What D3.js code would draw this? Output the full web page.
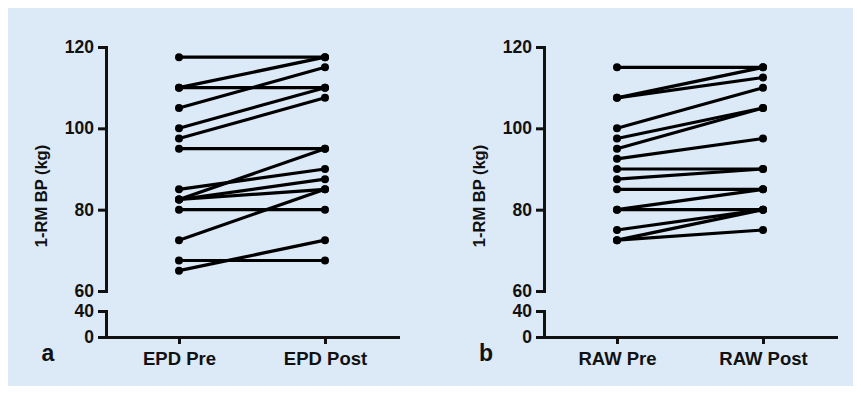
<!DOCTYPE html>
<html>
<head>
<meta charset="utf-8">
<script src="https://cdn.jsdelivr.net/npm/d3@7/dist/d3.min.js"></script>
<style>
  body { margin: 0; background: #fff; }
  text { font-family: "Liberation Sans", Arial, sans-serif; font-weight: bold; fill: #111; }
</style>
</head>
<body>
<div id="chart"></div>
<script>
const width = 861, height = 394;

// panel a (EPD) pre -> post pairs
const epdCategories = ["EPD Pre", "EPD Post"];
const epdPre  = [117.5, 110, 110, 105, 100, 97.5, 95, 82.5, 85, 82.5, 82.5, 80, 72.5, 67.5, 65];
const epdPost = [117.5, 117.5, 110, 115, 110, 107.5, 95, 95, 90, 87.5, 85, 80, 85, 67.5, 72.5];

// panel b (RAW)
const rawCategories = ["RAW Pre", "RAW Post"];
const rawPre  = [115, 107.5, 107.5, 100, 97.5, 95, 92.5, 90, 87.5, 85, 80, 80, 75, 72.5, 72.5];
const rawPost = [115, 115, 112.5, 110, 105, 105, 97.5, 90, 90, 85, 85, 80, 80, 80, 75];

const upperTicks = [60, 80, 100, 120];
const lowerTicks = [0, 40];

let svg = d3.select("#chart")
    .append("svg")
    .attr("width", width)
    .attr("height", height);

svg.append("rect")
    .attr("x", 8).attr("y", 8)
    .attr("width", 845).attr("height", 378)
    .attr("fill", "#dce9f6");

function drawPanel(x0, cats, pre, post, letter) {
    let g = svg.append("g");

    let x = d3.scalePoint()
        .domain(cats)
        .range([x0, x0 + 292])
        .padding(0.5);

    let yUp = d3.scaleLinear().domain([60, 120]).range([291, 47]);
    let yLow = d3.scaleLinear().domain([0, 40]).range([337, 311]);

    let styleAxis = function(sel, size) {
        sel.selectAll("path, line").attr("stroke", "#111").attr("stroke-width", 3);
        sel.selectAll("text").style("font-size", size + "px").attr("fill", "#111");
    };

    g.append("g")
        .attr("transform", `translate(${x0}, 0)`)
        .call(d3.axisLeft(yUp).tickValues(upperTicks).tickSize(8).tickSizeOuter(0).tickPadding(4))
        .call(styleAxis, 17.5);

    g.append("g")
        .attr("transform", `translate(${x0}, 0)`)
        .call(d3.axisLeft(yLow).tickValues(lowerTicks).tickSize(8).tickSizeOuter(0).tickPadding(4))
        .call(styleAxis, 17.5);

    g.append("g")
        .attr("transform", `translate(0, 337)`)
        .call(d3.axisBottom(x).tickSize(7).tickSizeOuter(0).tickPadding(8))
        .call(styleAxis, 18.5);

    g.selectAll(".domain").attr("stroke-linecap", "square");

    g.append("text")
        .attr("transform", `translate(${x0 - 59}, 196) rotate(-90)`)
        .style("text-anchor", "middle")
        .style("font-size", "16.5px")
        .text("1-RM BP (kg)");

    g.append("text")
        .attr("x", x0 - 58)
        .attr("y", 361)
        .style("text-anchor", "middle")
        .style("font-size", "23px")
        .text(letter);

    let pairs = pre.map((d, i) => ({ pre: d, post: post[i] }));

    g.selectAll("line.pair")
        .data(pairs)
        .enter()
        .append("line")
        .attr("class", "pair")
        .attr("x1", x(cats[0]))
        .attr("x2", x(cats[1]))
        .attr("y1", d => yUp(d.pre))
        .attr("y2", d => yUp(d.post))
        .attr("stroke", "#000")
        .attr("stroke-width", 3.2);

    let dots = [];
    pairs.forEach(d => {
        dots.push({ c: cats[0], v: d.pre });
        dots.push({ c: cats[1], v: d.post });
    });

    g.selectAll("circle")
        .data(dots)
        .enter()
        .append("circle")
        .attr("cx", d => x(d.c))
        .attr("cy", d => yUp(d.v))
        .attr("r", 4)
        .attr("fill", "#000");
}

drawPanel(106, epdCategories, epdPre, epdPost, "a");
drawPanel(544, rawCategories, rawPre, rawPost, "b");
</script>
</body>
</html>
